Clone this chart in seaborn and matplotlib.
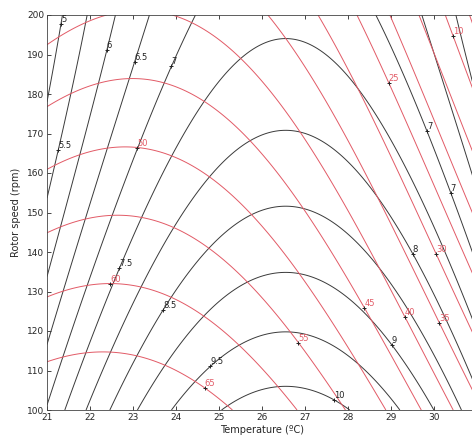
import numpy as np
import matplotlib
matplotlib.use("Agg")
import matplotlib.pyplot as plt
import seaborn as sns

# fitted response surfaces (T = temperature, N = rotor speed)
# black: b0 + b1*(N-100) + b2*(N-100)^2 - (b3 + b4*(N-100))*(T-tc)^2
black_coef = [10.23, -0.039, 1.06e-4, 0.1035, -0.000148]
black_tc = 26.55
# red: r0 + r1*(N-100) - (r2 + r3*(N-100))*(T-(t0 + t1*(N-100)))^2
red_coef = [69.25, -0.289, 0.425, 0.00175]
red_tc = [22.15, 0.01]

black_levels = [4.5, 5, 5.5, 6, 6.5, 7, 7.5, 8, 8.5, 9, 9.5, 10]
red_levels = [5, 10, 15, 20, 25, 30, 35, 40, 45, 50, 55, 60, 65]

x_ticks = list(range(21, 32))
x_ticklabels = [str(v) for v in range(21, 31)] + [""]
y_ticks = list(range(100, 201, 10))

black_label_pos = [(21.47, 197.5), (22.4, 191), (23.1, 188), (23.9, 187),
                   (21.2, 166), (22.5, 136.7), (23.5, 126.6), (24.72, 112),
                   (27.8, 105), (29.26, 118.5), (29.67, 140.5), (30.4, 155),
                   (30.15, 172)]
red_label_pos = [(23.1, 166), (22.47, 132.9), (24.74, 106.8), (26.84, 117),
                 (28.4, 126), (29.3, 123.3), (30.0, 121.5), (29.09, 183.5),
                 (30.3, 194.2), (30.15, 140)]

temp = np.linspace(21, 31, 301)
speed = np.linspace(100, 200, 301)
T, N = np.meshgrid(temp, speed)

b0, b1, b2, b3, b4 = black_coef
black = (b0 + b1 * (N - 100) + b2 * (N - 100) ** 2
         - (b3 + b4 * (N - 100)) * (T - black_tc) ** 2)
r0, r1, r2, r3 = red_coef
ridge = red_tc[0] + red_tc[1] * (N - 100)
red = r0 + r1 * (N - 100) - (r2 + r3 * (N - 100)) * (T - ridge) ** 2

sns.set_style("ticks")
plt.rcParams["font.family"] = ["DejaVu Sans"]

fig = plt.figure(figsize=(4.72, 4.43), dpi=100)
ax = fig.add_axes([47 / 472, 33 / 443, 430 / 472, 395 / 443])

cs_b = ax.contour(T, N, black, levels=black_levels, colors="#3a3a3a", linewidths=0.7)
cs_r = ax.contour(T, N, red, levels=red_levels, colors="#e25a66", linewidths=0.7)

for cs, pos, col in [(cs_b, black_label_pos, "#222222"), (cs_r, red_label_pos, "#e25a66")]:
    labels = ax.clabel(cs, inline=False, fontsize=6, manual=pos, fmt="%g")
    for t in labels:
        x, y = t.get_position()
        ax.plot(x, y, marker="+", color="#222222", ms=3, mew=0.7)
        t.set_rotation(0)
        t.set_ha("left")
        t.set_va("bottom")
        t.set_color(col)

ax.set_xlim(21, 31)
ax.set_ylim(100, 200)
ax.set_xticks(x_ticks)
ax.set_xticklabels(x_ticklabels)
ax.set_yticks(y_ticks)
ax.tick_params(direction="in", length=3, width=0.6, labelsize=6.5,
               top=True, right=True, pad=2)
for s in ax.spines.values():
    s.set_linewidth(0.6)
    s.set_color("#444444")
ax.set_xlabel("Temperature (ºC)", fontsize=7, labelpad=2)
ax.set_ylabel("Rotor speed (rpm)", fontsize=7, labelpad=4)

fig.savefig("out.png", dpi=100)
